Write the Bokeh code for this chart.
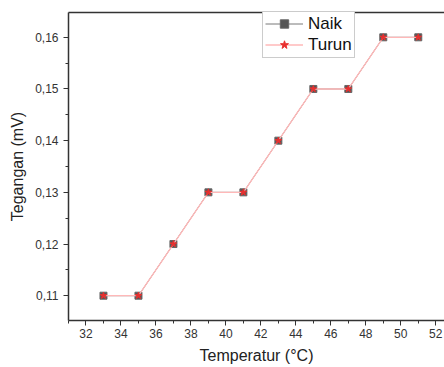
from bokeh.plotting import figure
from bokeh.models import (FixedTicker, CustomJSTickFormatter, Range1d, LinearAxis,
                          Legend, LegendItem)
from bokeh.embed import file_html
from bokeh.resources import INLINE

# Data
temperature = [33, 35, 37, 39, 41, 43, 45, 47, 49, 51]
naik = [0.11, 0.11, 0.12, 0.13, 0.13, 0.14, 0.15, 0.15, 0.16, 0.16]
turun = [0.11, 0.11, 0.12, 0.13, 0.13, 0.14, 0.15, 0.15, 0.16, 0.16]
x_ticks = [32, 34, 36, 38, 40, 42, 44, 46, 48, 50, 52]
x_minor = [31, 33, 35, 37, 39, 41, 43, 45, 47, 49, 51, 53]
y_ticks = [0.11, 0.12, 0.13, 0.14, 0.15, 0.16]
y_minor = [0.105, 0.115, 0.125, 0.135, 0.145, 0.155, 0.165]

FONT = "Liberation Sans"
TXT = "#333333"

p = figure(width=444, height=367, output_backend="svg", toolbar_location=None,
           x_range=Range1d(31.0, 52.5), y_range=Range1d(0.1052, 0.1648),
           min_border_left=68, min_border_right=0, min_border_top=12, min_border_bottom=47)
p.outline_line_color = None
p.grid.visible = False
p.background_fill_color = "white"

r_naik_line = p.line(temperature, naik, line_color="#555555", line_width=0.8)
r_naik = p.scatter(temperature, naik, marker="square", size=7,
                   fill_color="#555555", line_color="#666666")
r_turun_line = p.line(temperature, turun, line_color="#ffb8b8", line_width=1.3)
r_turun = p.scatter(temperature, turun, marker="star", size=7,
                    fill_color="#e8302f", line_color="#e8302f")

for ax in (p.xaxis[0], p.yaxis[0]):
    ax.axis_line_color = TXT
    ax.axis_line_width = 1.5
    ax.major_tick_line_color = TXT
    ax.minor_tick_line_color = TXT
    ax.major_tick_out = 5
    ax.major_tick_in = 0
    ax.minor_tick_out = 3
    ax.minor_tick_in = 0
    ax.major_label_text_font = FONT
    ax.major_label_text_font_size = "12px"
    ax.major_label_text_color = TXT
    ax.axis_label_text_font = FONT
    ax.axis_label_text_font_size = "16px"
    ax.axis_label_text_font_style = "normal"
    ax.axis_label_text_color = "#222222"

p.xaxis.ticker = FixedTicker(ticks=x_ticks, minor_ticks=x_minor)
p.yaxis.ticker = FixedTicker(ticks=y_ticks, minor_ticks=y_minor)
p.yaxis.formatter = CustomJSTickFormatter(code="return tick.toFixed(2).replace('.', ',');")
p.xaxis.axis_label = "Temperatur (°C)"
p.yaxis.axis_label = "Tegangan (mV)"
p.xaxis.major_label_standoff = 3
p.xaxis.axis_label_standoff = 6
p.yaxis.axis_label_standoff = 6

top = LinearAxis(ticker=FixedTicker(ticks=[]), major_label_text_font_size="0px",
                 axis_line_color=TXT, axis_line_width=1.5,
                 major_tick_line_color=None, minor_tick_line_color=None,
                 major_label_standoff=0)
p.add_layout(top, "above")

legend = Legend(items=[
    LegendItem(label="Naik", renderers=[r_naik_line, r_naik]),
    LegendItem(label="Turun", renderers=[r_turun_line, r_turun]),
], location="top_left")
legend.label_text_font = FONT
legend.label_text_font_size = "17px"
legend.label_text_color = "#111111"
legend.border_line_color = "#999999"
legend.border_line_width = 1
legend.padding = 2
legend.spacing = 0
legend.margin = 0
legend.glyph_width = 38
legend.glyph_height = 21
legend.label_standoff = 5
legend.label_height = 21
legend.background_fill_alpha = 1
p.add_layout(legend, "center")
legend.location = (194, 262)

open("out.html", "w").write(file_html(p, INLINE))
